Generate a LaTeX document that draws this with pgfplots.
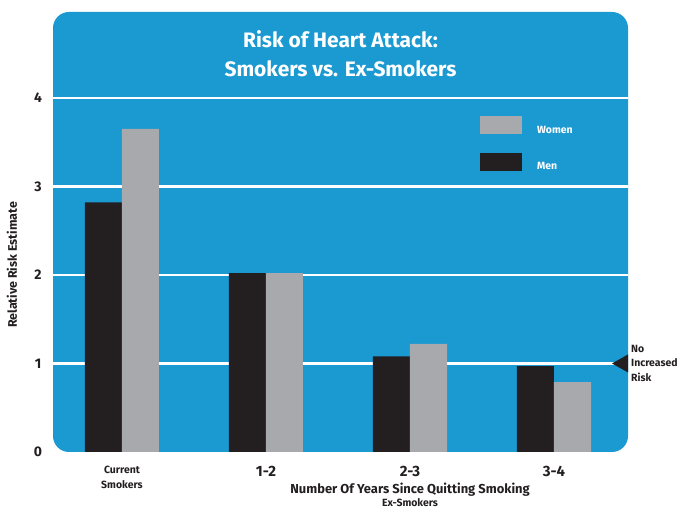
\documentclass[border=0pt]{standalone}
\usepackage{fontspec}
\setmainfont{Fira Sans}
\usepackage{pgfplots}
\pgfplotsset{compat=1.18}
\definecolor{chartblue}{HTML}{1B99D1}
\definecolor{mendark}{HTML}{231F20}
\definecolor{womengray}{HTML}{A7A9AC}
\pgfplotsset{
  boxleg/.style={legend image code/.code={\fill[##1] (0bp,-4bp) rectangle (42bp,14bp); \path (57bp,0bp);}},
}
\newcommand{\smallcat}{\fontsize{10.5}{15}\selectfont}
\begin{document}
\begin{tikzpicture}[x=1bp,y=1bp]
\useasboundingbox (0,0) rectangle (680,510);
\begin{axis}[
  at={(53bp,58bp)}, anchor=south west,
  scale only axis, width=575bp, height=440bp,
  xmin=-0.479, xmax=3.514, ymin=0, ymax=4.97,
  clip=false,
  axis line style={draw=none},
  tick style={draw=none},
  major tick length=0pt,
  axis background/.style={fill=chartblue, rounded corners=16bp},
  ytick={1,2,3,4}, yticklabels={1,2,3,4},
  extra y ticks={0}, extra y tick labels={0},
  extra y tick style={grid=none},
  ymajorgrids, grid style={white, line width=2.6bp},
  yticklabel style={anchor=center, xshift=-15bp, font=\bfseries\fontsize{14}{14}\selectfont, text=mendark},
  xtick={0,1,2,3},
  xticklabels={{\smallcat Current\\\smallcat Smokers}, 1-2, 2-3, 3-4},
  xticklabel style={align=center, anchor=north, yshift=-11bp, font=\bfseries\fontsize{15}{15}\selectfont, text=mendark},
  xlabel={Number Of Years Since Quitting Smoking},
  xlabel style={at={(rel axis cs:0.621,0)}, anchor=center, yshift=-38bp, font=\bfseries\fontsize{13}{13}\selectfont, text=mendark},
  legend style={at={(rel axis cs:0.7426,0.7636)}, anchor=north west, draw=none, fill=none, inner sep=0pt,
    row sep=18bp, nodes={inner sep=0pt}, font=\bfseries\fontsize{10.5}{11}\selectfont, text=white},
  legend cell align=left,
  reverse legend,
]
\addplot[ybar, bar width=0.257, bar shift=-0.1285, fill=mendark, draw=none, boxleg]
  coordinates {(0,2.82) (1,2.02) (2,1.08) (3,0.97)};
\addplot[ybar, bar width=0.257, bar shift=0.1285, fill=womengray, draw=none, boxleg]
  coordinates {(0,3.65) (1,2.02) (2,1.22) (3,0.79)};
\legend{Men, Women}
\node[font=\bfseries\fontsize{21}{29}\selectfont, text=white, align=center] at (rel axis cs:0.5,0.905)
  {Risk of Heart Attack:\\Smokers vs. Ex-Smokers};
\node[rotate=90, font=\bfseries\fontsize{12.5}{12.5}\selectfont, text=mendark]
  at ([xshift=-41bp]rel axis cs:0,0.425) {Relative Risk Estimate};
\fill[mendark] ([xshift=-16bp]axis cs:3.514,1) -- ([yshift=9bp]axis cs:3.514,1) -- ([yshift=-9bp]axis cs:3.514,1) -- cycle;
\node[anchor=west, align=left, inner sep=0pt, font=\bfseries\fontsize{10.5}{14.5}\selectfont, text=mendark]
  at ([xshift=3bp]axis cs:3.514,1) {No\\Increased\\Risk};
\node[font=\bfseries\fontsize{10.5}{10.5}\selectfont, text=mendark] at ([yshift=-51bp]rel axis cs:0.621,0) {Ex-Smokers};
\end{axis}
\end{tikzpicture}
\end{document}
